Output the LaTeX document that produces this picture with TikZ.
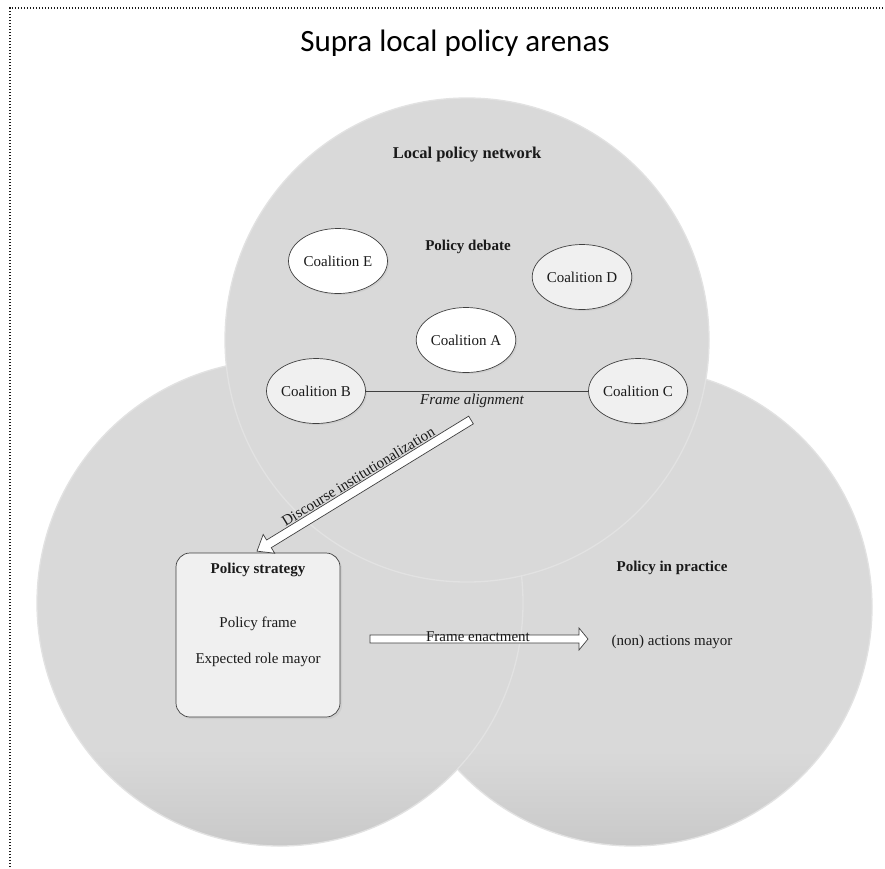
\documentclass[tikz,border=0pt]{standalone}
\usepackage{fontspec}
\setmainfont{Liberation Serif}
\newfontfamily\titlefont{Carlito}
\usetikzlibrary{shapes.geometric,shadows}
\definecolor{circfill}{HTML}{D9D9D9}
\definecolor{circbot}{HTML}{C9C9C9}
\definecolor{circedge}{HTML}{E2E2E2}
\definecolor{boxfill}{HTML}{F0F0F0}
\definecolor{edgecol}{HTML}{404040}
\definecolor{txt}{HTML}{1A1A1A}
\pgfdeclareverticalshading{circshade}{100bp}{color(0bp)=(circbot); color(25bp)=(circbot); color(35bp)=(circfill); color(100bp)=(circfill)}
\begin{document}
\begin{tikzpicture}[x=1pt,y=-1pt,
  arena/.style={circle, inner sep=0pt, shading=circshade, draw=circedge, line width=1.3pt},
  toparena/.style={circle, inner sep=0pt, fill=circfill, draw=circedge, line width=1.3pt},
  coal/.style={ellipse, inner sep=0pt, minimum width=99pt, minimum height=65pt, draw=edgecol, line width=0.7pt,
     font=\fontsize{15}{18}\selectfont, text=txt,
     drop shadow={opacity=0.12, shadow xshift=1.5pt, shadow yshift=-1.5pt}},
  lbl/.style={font=\fontsize{15}{18}\selectfont, text=txt, inner sep=0pt},
  blbl/.style={font=\fontsize{15}{18}\selectfont\bfseries, text=txt, inner sep=0pt},
  blockarrow/.style={draw=edgecol, fill=white, line width=0.7pt, line join=miter}
]
\useasboundingbox (0,0) rectangle (885,868);
\fill[white] (0,0) rectangle (885,868);
% dotted frame
\draw[line width=1.3pt, dash pattern=on 1.3pt off 1.7pt, txt] (10,870) -- (10,8) -- (887,8);
% title
\node[inner sep=0pt, font=\titlefont\fontsize{31}{36}\selectfont, text=black] (title) at (455,43) {Supra local policy arenas};
% three arenas
\node[arena, minimum size=478pt] (practice) at (633,607) {};
\node[arena, minimum size=486pt] (strategyarena) at (280,603) {};
\node[toparena, minimum size=484pt] (network) at (467,340) {};
% labels
\node[blbl, font=\fontsize{16.5}{19}\selectfont\bfseries] (lpn) at (467,155) {Local policy network};
\node[blbl] (debate) at (468,247) {Policy debate};
% coalitions
\node[coal, fill=white] (E) at (338,261) {Coalition E};
\node[coal, fill=white] (A) at (466,340) {Coalition A};
\node[coal, fill=boxfill] (D) at (582,277) {Coalition D};
\node[coal, fill=boxfill] (B) at (316,391) {Coalition B};
\node[coal, fill=boxfill] (C) at (638,391) {Coalition C};
\draw[edgecol, line width=0.7pt] (B) -- (C);
\node[lbl, font=\fontsize{15}{18}\selectfont\itshape] (align) at (472,401) {Frame alignment};
% policy strategy box
\node[draw=edgecol, fill=boxfill, line width=0.7pt, rounded corners=14pt, minimum width=164pt, minimum height=164pt, inner sep=0pt,
      drop shadow={opacity=0.12, shadow xshift=2pt, shadow yshift=-2pt}] (strategy) at (258,635) {};
\node[blbl] (strat) at (258,570) {Policy strategy};
\node[lbl] (pframe) at (258,624) {Policy frame};
\node[lbl] (role) at (258,660) {Expected role mayor};
% policy in practice
\node[blbl] (pip) at (672,568) {Policy in practice};
\node[lbl] (nonact) at (672,642) {(non) actions mayor};
% discourse institutionalization arrow
\coordinate (dstart) at (471,420);
\coordinate (dend) at (257,551);
\begin{scope}[shift={(dstart)}, rotate=211.5]
  \draw[blockarrow] (0,-4.5) -- (237,-4.5) -- (237,-11) -- (251,0) -- (237,11) -- (237,4.5) -- (0,4.5) -- cycle;
\end{scope}
\node[lbl, rotate=31.5, anchor=south] (disc) at (361,481) {Discourse institutionalization};
% frame enactment arrow
\coordinate (fstart) at (370,639);
\coordinate (fend) at (588,639);
\begin{scope}[shift={(fstart)}]
  \draw[blockarrow] (0,-4) -- (209,-4) -- (209,-11) -- (218,0) -- (209,11) -- (209,4) -- (0,4) -- cycle;
\end{scope}
\node[lbl] (enact) at (478,637) {Frame enactment};
\end{tikzpicture}
\end{document}
